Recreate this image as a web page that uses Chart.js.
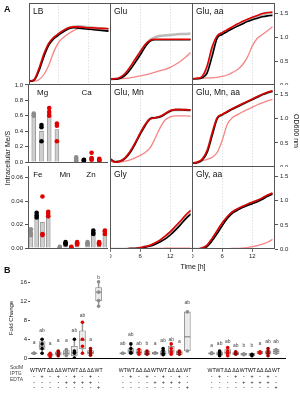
<!DOCTYPE html>
<html>
<head>
<meta charset="utf-8">
<script src="https://cdn.jsdelivr.net/npm/chart.js@4.4.0/dist/chart.umd.min.js"></script>
<style>
  body { margin: 0; background: #fff; }
  #fig { position: relative; width: 300px; height: 400px; overflow: hidden; font-family: 'Liberation Sans', Arial, sans-serif; }
  #fig canvas { position: absolute; }
  .lbl { position: absolute; white-space: nowrap; color: #111; line-height: 1; }
</style>
</head>
<body>
<div id="fig"></div>
<script>
// ---- growth curves (OD600), one value per hour 0..16
const hours = [0,1,2,3,4,5,6,7,8,9,10,11,12,13,14,15,16];

const lbBlack = [0.08,0.10,0.30,0.60,0.84,0.97,1.05,1.12,1.18,1.20,1.19,1.18,1.17,1.16,1.15,1.14,1.13];
const lbRed   = [0.08,0.11,0.34,0.65,0.88,1.00,1.08,1.15,1.20,1.22,1.22,1.21,1.20,1.20,1.19,1.19,1.18];
const lbGray  = [0.08,0.10,0.32,0.63,0.86,0.99,1.07,1.14,1.20,1.22,1.23,1.22,1.21,1.20,1.19,1.18,1.17];
const lbPink  = [0.08,0.08,0.11,0.22,0.42,0.70,0.90,1.00,1.08,1.14,1.19,1.20,1.19,1.18,1.17,1.15,1.14];

const gluBlack = [0.12,0.12,0.14,0.20,0.32,0.47,0.63,0.80,0.92,0.95,0.95,0.95,0.95,0.95,0.95,0.95,0.95];
const gluRed   = [0.12,0.13,0.16,0.24,0.38,0.54,0.70,0.85,0.94,0.96,0.96,0.96,0.96,0.96,0.96,0.96,0.96];
const gluGray  = [0.12,0.13,0.15,0.23,0.36,0.52,0.68,0.84,0.95,1.00,1.03,1.04,1.05,1.06,1.07,1.07,1.08];
const gluPink  = [0.12,0.12,0.13,0.14,0.15,0.17,0.19,0.21,0.24,0.27,0.30,0.33,0.37,0.43,0.50,0.58,0.68];

const gluAaBlack = [0.13,0.13,0.15,0.25,0.60,0.98,1.06,1.12,1.18,1.23,1.28,1.33,1.37,1.40,1.43,1.45,1.46];
const gluAaRed   = [0.13,0.14,0.18,0.40,0.80,1.03,1.10,1.16,1.22,1.28,1.33,1.38,1.42,1.46,1.50,1.52,1.53];
const gluAaGray  = [0.13,0.13,0.16,0.33,0.72,1.01,1.08,1.14,1.20,1.26,1.31,1.36,1.40,1.44,1.48,1.50,1.51];
const gluAaPink  = [0.13,0.14,0.14,0.15,0.15,0.16,0.18,0.21,0.26,0.32,0.42,0.58,0.82,0.98,1.06,1.14,1.22];

const gluMnBlack = [0.17,0.11,0.12,0.18,0.30,0.48,0.68,0.86,1.00,1.02,1.04,1.10,1.16,1.19,1.19,1.18,1.18];
const gluMnRed   = [0.16,0.10,0.12,0.19,0.32,0.50,0.70,0.88,1.00,1.02,1.05,1.11,1.17,1.19,1.19,1.19,1.18];
const gluMnGray  = [0.16,0.11,0.12,0.18,0.31,0.49,0.69,0.87,1.00,1.02,1.04,1.10,1.16,1.18,1.18,1.18,1.17];
const gluMnPink  = [0.12,0.10,0.10,0.12,0.15,0.19,0.24,0.30,0.40,0.60,0.82,0.98,1.04,1.06,1.06,1.06,1.05];

const gluMnAaBlack = [0.08,0.09,0.14,0.30,0.65,1.00,1.08,1.14,1.20,1.25,1.30,1.35,1.40,1.45,1.50,1.54,1.57];
const gluMnAaRed   = [0.08,0.10,0.16,0.34,0.70,1.02,1.09,1.15,1.21,1.26,1.31,1.36,1.41,1.46,1.51,1.55,1.58];
const gluMnAaGray  = [0.08,0.09,0.15,0.32,0.68,1.01,1.08,1.14,1.20,1.25,1.30,1.35,1.40,1.45,1.50,1.54,1.57];
const gluMnAaPink  = [0.08,0.10,0.13,0.16,0.20,0.30,0.55,0.88,1.02,1.08,1.14,1.19,1.24,1.29,1.33,1.37,1.40];

const glyBlack = [0,0,0,0,0.01,0.01,0.02,0.04,0.06,0.10,0.15,0.21,0.29,0.39,0.50,0.62,0.72];
const glyRed   = [0,0,0,0,0.01,0.01,0.03,0.05,0.08,0.13,0.19,0.27,0.36,0.47,0.58,0.70,0.80];
const glyGray  = [0,0,0,0,0.01,0.01,0.02,0.05,0.07,0.11,0.17,0.24,0.32,0.43,0.54,0.66,0.76];
const glyPink  = [0,0,0,0,0,0,0.01,0.01,0.01,0.01,0.01,0.02,0.02,0.02,0.02,0.02,0.02];

const glyAaBlack = [0,0,0.01,0.05,0.17,0.32,0.48,0.63,0.74,0.80,0.86,0.90,0.94,0.98,1.03,1.09,1.14];
const glyAaRed   = [0,0,0.02,0.08,0.22,0.38,0.54,0.67,0.77,0.83,0.88,0.93,0.97,1.01,1.06,1.12,1.16];
const glyAaGray  = [0,0,0.02,0.07,0.20,0.36,0.52,0.65,0.76,0.82,0.87,0.92,0.96,1.00,1.05,1.10,1.15];
const glyAaPink  = [0,0,0,0,0,0,0,0,0.01,0.01,0.02,0.03,0.05,0.07,0.10,0.14,0.20];

const odTicks = [0, 0.5, 1.0, 1.5];
const timeTicks = [0, 6, 12];

// ---- intracellular metal / S
const mgCaNames = ['Mg', 'Ca'];
const mgCaNamePos = [1.9, 7.6];
const mgCaPos = [0.75, 1.75, 2.75, 3.75, 6.25, 7.25, 8.25, 9.25];
const mgCaBars = [0.61, 0.40, 0.63, 0.42, 0.03, 0.02, 0.06, 0.03];
const mgCaPts = [[0.60,0.61,0.63],[0.27,0.45,0.48],[0.60,0.65,0.70],[0.27,0.47,0.50],
                 [0.02,0.04,0.06],[0.02,0.025,0.03],[0.03,0.05,0.12],[0.02,0.03,0.04]];
const mgCaTicks = [0, 0.2, 0.4, 0.6, 0.8, 1.0];

const feNames = ['Fe', 'Mn', 'Zn'];
const feNamePos = [1.7, 6.4, 10.9];
const fePos = [0.5, 1.5, 2.5, 3.5, 5.5, 6.5, 7.5, 8.5, 10.3, 11.3, 12.3, 13.3];
const feBars = [0.012, 0.027, 0.022, 0.028, 0.0006, 0.004, 0.0008, 0.004, 0.004, 0.013, 0.004, 0.013];
const fePts = [[0.011,0.013,0.016],[0.026,0.028,0.030],[0.011,0.012,0.044],[0.027,0.029,0.031],
               [0.0005,0.001],[0.003,0.004,0.005],[0.0005,0.001],[0.003,0.004,0.005],
               [0.003,0.004,0.005],[0.012,0.013,0.015],[0.003,0.004,0.005],[0.012,0.014,0.015]];
const feTicks = [0, 0.02, 0.04, 0.06];
const barPtColors = ['#8c8c8c', '#000000', '#e00000', '#e00000'];

// ---- panel B fold change
const fcGeno = ['WT','WT','ΔΔ','ΔΔ','WT','WT','ΔΔ','ΔΔ','WT'];
const fcSodM = ['-','+','-','+','-','+','-','+','-'];
const fcIPTG = ['-','-','-','-','+','+','+','+','-'];
const fcEDTA = ['-','-','-','-','-','-','-','-','+'];
const fcColors = ['#8c8c8c','#000000','#e00000','#a00000','#8c8c8c','#000000','#e00000','#a00000','#8c8c8c'];
const fcGroupStart = [0, 11, 22];

const fcLow1 = [0.9, 1.8, 0.4, 0.6, 0.6, 0.5, 2.0, 0.8, 12.2];
const fcHigh1 = [1.1, 3.5, 0.9, 1.3, 1.6, 2.5, 5.8, 1.6, 15.0];
const fcMed1 = [1.0, 2.5, 0.7, 1.0, 1.0, 1.2, 3.8, 1.2, 14.0];
const fcPts1 = [[1,1,1],[1,2,3,4],[0.3,0.6,0.8,1.0],[0.5,0.8,1.3,1.5],[0.5,1,1.5,1.8],[0,1,1.5,4],[1,2.5,4,7.6],[0.6,1,1.5,2],[11,12.2,14,16.2]];
const fcLetter1 = ['a','ab','a','a','a','ab','ab','a','b'];
const fcLetterY1 = [3.2, 5.8, 3.0, 3.5, 3.5, 5.8, 8.9, 3.9, 17.0];

const fcLow2 = [0.9, 1.0, 0.8, 0.7, 0.8, 0.6, 1.0, 0.7, 1.5];
const fcHigh2 = [1.1, 2.0, 1.8, 1.5, 1.2, 1.5, 2.5, 1.5, 9.8];
const fcMed2 = [1.0, 1.5, 1.2, 1.0, 1.0, 1.0, 1.5, 1.1, 4.5];
const fcPts2 = [[1,1],[1,1.2,2,3],[0.8,1.2,1.8],[0.8,1.1,1.5],[1,1.1],[0.7,1,1.6,2],[0.8,1.3,2,3],[0.8,1.2,1.5],[1.5,9.8]];
const fcLetter2 = ['ab','ab','ab','b','a','ab','ab','a','ab'];
const fcLetterY2 = [2.9, 4.8, 3.0, 3.0, 3.0, 3.6, 3.8, 3.3, 11.7];

const fcLow3 = [0.8, 0.6, 0.8, 0.7, 0.6, 0.5, 0.9, 0.8, 0.9];
const fcHigh3 = [1.1, 1.3, 1.8, 1.3, 1.0, 1.0, 1.4, 1.5, 1.9];
const fcMed3 = [1.0, 0.9, 1.2, 1.0, 0.8, 0.8, 1.1, 1.1, 1.4];
const fcPts3 = [[0.9,1,1.1],[0.5,0.8,1.2,1.5],[0.5,1,1.5,2.2],[0.8,1,1.3],[0.7,0.9],[0.5,0.8],[1,1.3],[0.5,1,1.5,2],[1,1.5,1.8]];
const fcLetter3 = ['a','ab','ab','ab','b','b','a','ab','ab'];
const fcLetterY3 = [2.6, 3.0, 3.3, 2.6, 2.5, 2.5, 3.0, 3.3, 3.3];

const fcTicks = [0,2,4,6,8,10,12,14,16];

// ---------------------------------------------------------------
const FONT = "'Liberation Sans', Arial, sans-serif";
Chart.defaults.font.family = FONT;
Chart.defaults.color = '#222';
const fig = document.getElementById('fig');

function addCanvas(left, top, w, h) {
  const c = document.createElement('canvas');
  c.width = w; c.height = h;
  c.style.left = left + 'px'; c.style.top = top + 'px';
  c.style.width = w + 'px'; c.style.height = h + 'px';
  fig.appendChild(c);
  return c;
}

function addText(txt, x, y, size, extra) {
  const d = document.createElement('div');
  d.className = 'lbl';
  d.textContent = txt;
  d.style.left = x + 'px'; d.style.top = y + 'px';
  d.style.fontSize = size + 'px';
  if (extra) Object.assign(d.style, extra);
  fig.appendChild(d);
}

// fixed axis size, no extra label padding, so chart areas land on exact pixels
const fixH = h => s => { s.height = h; s.paddingLeft = s.paddingRight = s.paddingTop = s.paddingBottom = 0; };
const fixW = w => s => { s.width = w; s.paddingLeft = s.paddingRight = s.paddingTop = s.paddingBottom = 0; };

// frame + in-panel titles
const framePlugin = {
  id: 'frame',
  afterDatasetsDraw(chart, args, o) {
    const { ctx, chartArea: a } = chart;
    ctx.save();
    if (o.box) {
      ctx.strokeStyle = '#555'; ctx.lineWidth = 1;
      ctx.strokeRect(a.left + 0.5, a.top + 0.5, a.width - 1, a.height - 1);
    }
    if (o.title) {
      ctx.fillStyle = '#111'; ctx.font = '8.5px ' + FONT; ctx.textBaseline = 'top';
      ctx.fillText(o.title, a.left + 4, a.top + 4);
    }
    if (o.names) {
      ctx.fillStyle = '#111'; ctx.font = '8px ' + FONT; ctx.textBaseline = 'top'; ctx.textAlign = 'center';
      o.names.forEach((n, i) => ctx.fillText(n, chart.scales.x.getPixelForValue(o.namePos[i]), a.top + 5));
    }
    ctx.restore();
  }
};

const xy = (vals) => vals.map((v, i) => ({ x: hours[i], y: v }));
const curve = (vals, color, w) => ({ data: xy(vals), borderColor: color, borderWidth: w, pointRadius: 0, cubicInterpolationMode: 'monotone' });

const colX = [29, 110, 192], colW = [82, 83, 83];
const rowY = [3, 84, 166], rowH = [82, 83, 83];

function growth(col, row, title, black, red, gray, pink) {
  const right = col === 2, bottom = row === 2;
  const w = colW[col] + (right ? 26 : 0), h = rowH[row] + (bottom ? 12 : 0);
  const c = addCanvas(colX[col], rowY[row], w, h);
  new Chart(c, {
    type: 'line',
    data: { datasets: [
      curve(red, '#e00000', 1.6),
      curve(black, '#000000', 1.6),
      curve(pink, 'rgba(244,120,120,0.9)', 1.3),
      curve(gray, 'rgba(175,175,175,0.85)', 2.6)
    ] },
    options: {
      responsive: false, animation: false, layout: { padding: 0 },
      plugins: { legend: { display: false }, tooltip: { enabled: false }, frame: { box: true, title } },
      scales: {
        x: {
          type: 'linear', min: 0, max: 16.5,
          afterBuildTicks: s => { s.ticks = timeTicks.map(v => ({ value: v })); },
          afterFit: fixH(bottom ? 12 : 0),
          border: { display: false, dash: [1.5, 1.5] },
          grid: { color: '#d8d8d8', lineWidth: 0.8, drawTicks: bottom, tickLength: 3, tickColor: '#555' },
          ticks: { display: bottom, font: { size: 6 }, padding: 1, maxRotation: 0 }
        },
        y: {
          position: 'right', min: 0, max: 1.72,
          afterBuildTicks: s => { s.ticks = odTicks.map(v => ({ value: v })); },
          afterFit: fixW(right ? 26 : 0),
          border: { display: false },
          grid: { drawOnChartArea: false, drawTicks: right, tickLength: 3, color: '#555' },
          ticks: { display: right, font: { size: 6 }, padding: 2, callback: v => v.toFixed(1) }
        }
      }
    },
    plugins: [framePlugin]
  });
}

growth(0, 0, 'LB', lbBlack, lbRed, lbGray, lbPink);
growth(1, 0, 'Glu', gluBlack, gluRed, gluGray, gluPink);
growth(2, 0, 'Glu, aa', gluAaBlack, gluAaRed, gluAaGray, gluAaPink);
growth(1, 1, 'Glu, Mn', gluMnBlack, gluMnRed, gluMnGray, gluMnPink);
growth(2, 1, 'Glu, Mn, aa', gluMnAaBlack, gluMnAaRed, gluMnAaGray, gluMnAaPink);
growth(1, 2, 'Gly', glyBlack, glyRed, glyGray, glyPink);
growth(2, 2, 'Gly, aa', glyAaBlack, glyAaRed, glyAaGray, glyAaPink);

// metal bar charts
function metals(top, areaH, padBottom, yMax, ticks, digits, xMax, pos, bars, pts, names, namePos) {
  const c = addCanvas(0, top, 111, 6 + areaH + padBottom);
  const points = [], colors = [];
  pts.forEach((arr, i) => arr.forEach(v => { points.push({ x: pos[i], y: v }); colors.push(barPtColors[i % 4]); }));
  new Chart(c, {
    type: 'bar',
    data: { datasets: [
      { type: 'scatter', data: points, backgroundColor: colors, borderWidth: 0, pointRadius: 2.3 },
      { type: 'bar', data: pos.map((p, i) => ({ x: p, y: bars[i] })), barThickness: 4,
        backgroundColor: '#cfcfcf', borderColor: '#8a8a8a', borderWidth: 0.8, grouped: false }
    ] },
    options: {
      responsive: false, animation: false, layout: { padding: { top: 6 } },
      plugins: { legend: { display: false }, tooltip: { enabled: false }, frame: { names, namePos } },
      scales: {
        x: {
          type: 'linear', min: 0, max: xMax, offset: false,
          afterFit: fixH(padBottom),
          grid: { display: false }, ticks: { display: false },
          border: { display: true, color: '#555', width: 1 }
        },
        y: {
          min: 0, max: yMax,
          afterBuildTicks: s => { s.ticks = ticks.map(v => ({ value: v })); },
          afterFit: fixW(28),
          border: { display: true, color: '#555', width: 1 },
          grid: { drawOnChartArea: false, tickLength: 3, color: '#555' },
          ticks: { font: { size: 6 }, padding: 2, callback: v => v.toFixed(digits) }
        }
      }
    },
    plugins: [framePlugin]
  });
}

metals(78, 82, 0, 1.012, mgCaTicks, 1, 10.25, mgCaPos, mgCaBars, mgCaPts, mgCaNames, mgCaNamePos);
metals(160, 82, 6, 0.07, feTicks, 2, 13.67, fePos, feBars, fePts, feNames, feNamePos);

// panel B
const fcSets = [
  [fcLow1, fcHigh1, fcMed1, fcPts1, fcLetter1, fcLetterY1],
  [fcLow2, fcHigh2, fcMed2, fcPts2, fcLetter2, fcLetterY2],
  [fcLow3, fcHigh3, fcMed3, fcPts3, fcLetter3, fcLetterY3]
];
const boxes = [], whisk = [], meds = [], dots = [], dotColors = [], letters = [], slots = [];
fcSets.forEach(([lo, hi, md, pts, let_, letY], g) => {
  lo.forEach((v, i) => {
    const x = fcGroupStart[g] + i;
    slots.push(x);
    boxes.push({ x, y: [lo[i], hi[i]] });
    whisk.push({ x, y: [Math.min(...pts[i]), Math.max(...pts[i])] });
    meds.push({ x, y: md[i] });
    pts[i].forEach(p => { dots.push({ x, y: p }); dotColors.push(fcColors[i]); });
    letters.push({ x, y: letY[i], t: let_[i] });
  });
});

const letterPlugin = {
  id: 'letters',
  afterDatasetsDraw(chart) {
    const { ctx, scales } = chart;
    ctx.save();
    ctx.fillStyle = '#444'; ctx.font = '5px ' + FONT; ctx.textAlign = 'center'; ctx.textBaseline = 'bottom';
    letters.forEach(l => ctx.fillText(l.t, scales.x.getPixelForValue(l.x), scales.y.getPixelForValue(l.y) + 2));
    ctx.restore();
  }
};

const cb = addCanvas(0, 270, 300, 130);
new Chart(cb, {
  type: 'bar',
  data: { datasets: [
    { type: 'scatter', data: dots, backgroundColor: dotColors, borderWidth: 0, pointRadius: 1.8 },
    { type: 'scatter', data: meds, pointStyle: 'line', pointRadius: 3, borderColor: '#777', borderWidth: 1 },
    { type: 'bar', data: boxes, barThickness: 6, backgroundColor: 'rgba(238,238,238,0.9)', borderColor: '#888', borderWidth: 0.8, borderSkipped: false, grouped: false },
    { type: 'bar', data: whisk, barThickness: 0.8, backgroundColor: '#999', grouped: false }
  ] },
  options: {
    responsive: false, animation: false, layout: { padding: { top: 9, right: 15 } },
    plugins: { legend: { display: false }, tooltip: { enabled: false } },
    scales: {
      x: {
        type: 'linear', min: -0.5, max: 31.1, offset: false,
        afterBuildTicks: s => { s.ticks = slots.map(v => ({ value: v })); },
        afterFit: fixH(42),
        grid: { display: false },
        border: { display: true, color: '#000', width: 1 },
        ticks: {
          autoSkip: false, maxRotation: 0, padding: 2, font: { size: 5.2, lineHeight: 1.1 }, color: '#111',
          callback: (v, i) => { const k = i % 9; return [fcGeno[k], fcSodM[k], fcIPTG[k], fcEDTA[k]]; }
        }
      },
      y: {
        min: 0, max: 16.8,
        afterBuildTicks: s => { s.ticks = fcTicks.map(v => ({ value: v })); },
        afterFit: fixW(30),
        border: { display: false },
        grid: { drawOnChartArea: false, tickLength: 2, color: '#555' },
        ticks: { font: { size: 6 }, padding: 1 }
      }
    }
  },
  plugins: [letterPlugin]
});

// loose labels
addText('A', 4, 5, 9, { fontWeight: 'bold' });
addText('B', 4, 266, 9, { fontWeight: 'bold' });
addText('Time [h]', 193, 266, 7, { transform: 'translate(-50%,-50%)' });
addText('OD600 nm', 296, 131, 7, { transform: 'translate(-50%,-50%) rotate(90deg)' });
addText('Intracellular Me/S', 7, 158, 7, { transform: 'translate(-50%,-50%) rotate(-90deg)' });
addText('Fold Change', 11, 318, 6, { transform: 'translate(-50%,-50%) rotate(-90deg)' });
addText('SodM', 10, 365, 5, { color: '#444' });
addText('IPTG', 10, 371, 5, { color: '#444' });
addText('EDTA', 10, 377, 5, { color: '#444' });
</script>
</body>
</html>
